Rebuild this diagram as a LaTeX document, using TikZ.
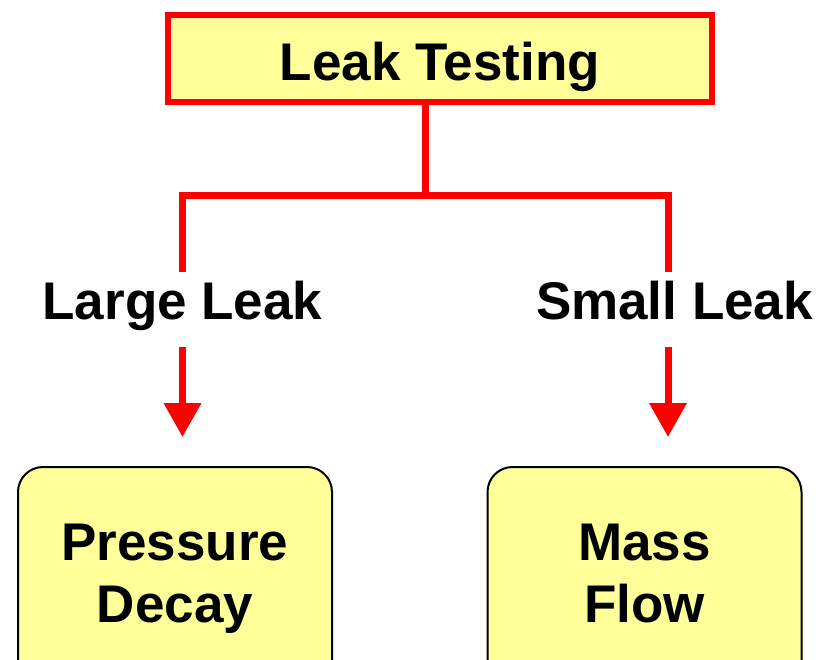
\documentclass[tikz,border=0pt]{standalone}
\usepackage{fontspec}
\setmainfont{Liberation Sans}
\usetikzlibrary{arrows.meta}
\definecolor{boxyellow}{RGB}{255,255,153}
\definecolor{linered}{RGB}{255,0,0}
\begin{document}
\begin{tikzpicture}[x=1pt,y=-1pt,
  txt/.style={font=\fontsize{53}{62}\selectfont\bfseries, align=center},
  topbox/.style={txt, draw=linered, line width=6pt, fill=boxyellow, minimum width=544pt, minimum height=87pt, inner sep=0pt, text height=54pt, text depth=11pt},
  leafbox/.style={txt, draw=black, line width=2pt, fill=boxyellow, rounded corners=25pt, minimum width=314pt, minimum height=221pt, inner sep=0pt, text height=100pt, text depth=11pt},
  redline/.style={draw=linered, line width=7pt},
  redarrow/.style={draw=linered, line width=7pt, -{Triangle[width=36pt,length=34pt]}},
  lbl/.style={txt, inner sep=0pt}]
\useasboundingbox (0,0) rectangle (819,659);
\clip (0,0) rectangle (819,659);
\node[topbox] (tb) at (440,58.5) {Leak Testing};
\node[leafbox] (pd) at (175,577.5) {Pressure\\Decay};
\node[leafbox] (mf) at (644.5,577.5) {Mass\\Flow};
\node[lbl, anchor=base] (ll) at (182.5,319) {Large Leak};
\node[lbl, anchor=base] (sl) at (674.5,319) {Small Leak};
\coordinate (j) at (425,195);
\coordinate (jl) at (182.5,195);
\coordinate (jr) at (668,195);
\coordinate (el) at (182.5,268);
\coordinate (er) at (668,268);
\coordinate (als) at (182.5,347);
\coordinate (ale) at (182.5,437);
\coordinate (ars) at (668,347);
\coordinate (are) at (668,437);
\draw[redline] (tb.south -| j) -- (j);
\draw[redline, line cap=rect] (el) -- (jl) -- (jr) -- (er);
\draw[redarrow] (als) -- (ale);
\draw[redarrow] (ars) -- (are);
\end{tikzpicture}
\end{document}
